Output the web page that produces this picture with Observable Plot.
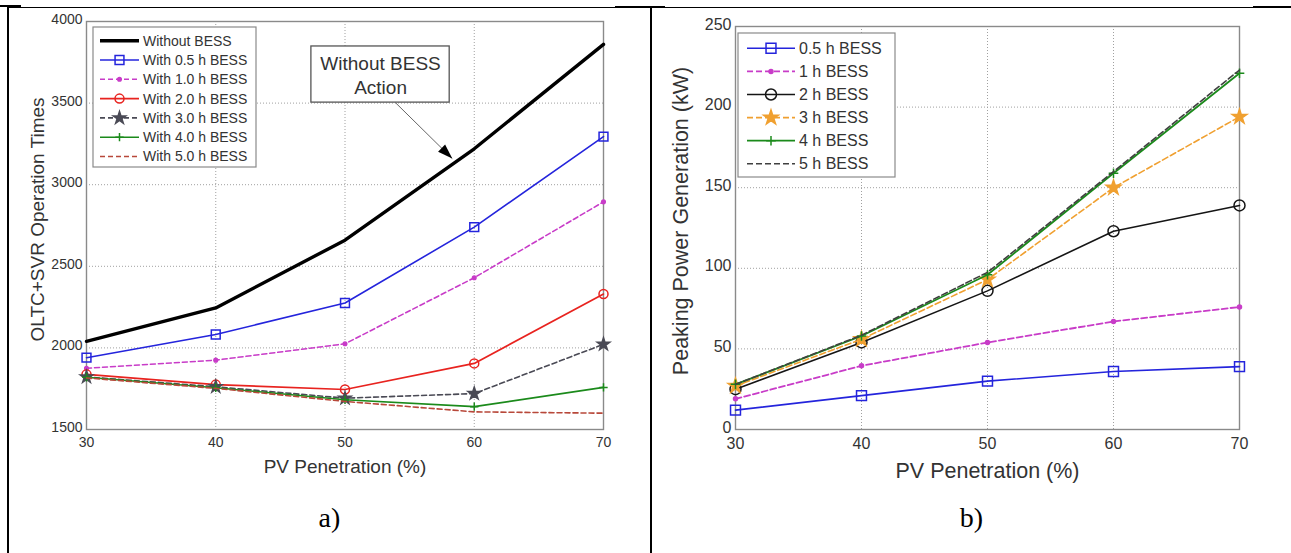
<!DOCTYPE html>
<html><head><meta charset="utf-8">
<script src="https://cdn.jsdelivr.net/npm/d3@7"></script>
<script src="https://cdn.jsdelivr.net/npm/@observablehq/plot@0.6"></script>
<style>
html,body{margin:0;padding:0;background:#fff;}
#page{position:relative;width:1291px;height:553px;overflow:hidden;background:#fff;font-family:"Liberation Sans",Arial,sans-serif;}
.ln{position:absolute;background:#000;}
.cap{position:absolute;text-align:center;font-family:"Liberation Serif","Times New Roman",serif;font-size:28px;line-height:30px;color:#000;}
</style></head><body><div id="page"></div>
<script>
// ---------- data ----------
const penetration = [30, 40, 50, 60, 70];
const xTicks = [30, 40, 50, 60, 70];
const yTicksA = [1500, 2000, 2500, 3000, 3500, 4000];
const yTicksB = [0, 50, 100, 150, 200, 250];

const seriesA = ["Without BESS", "With 0.5 h BESS", "With 1.0 h BESS", "With 2.0 h BESS", "With 3.0 h BESS", "With 4.0 h BESS", "With 5.0 h BESS"];
const opsNone = [2040, 2245, 2660, 3220, 3860];
const ops05 = [1940, 2082, 2275, 2740, 3295];
const ops10 = [1875, 1925, 2025, 2430, 2895];
const ops20 = [1838, 1775, 1745, 1905, 2330];
const ops30 = [1822, 1762, 1692, 1720, 2022];
const ops40 = [1820, 1756, 1682, 1640, 1758];
const ops50 = [1816, 1752, 1672, 1608, 1600];

const seriesB = ["0.5 h BESS", "1 h BESS", "2 h BESS", "3 h BESS", "4 h BESS", "5 h BESS"];
const peak05 = [12, 21, 30, 36, 39];
const peak1 = [19, 39.5, 54, 67, 76];
const peak2 = [25, 54, 86, 123, 139];
const peak3 = [27, 56, 93, 150, 194];
const peak4 = [28, 58, 96, 159, 221];
const peak5 = [28, 58.5, 97.5, 160, 223];

const xLabel = "PV Penetration (%)";
const yLabelA = "OLTC+SVR Operation Times";
const yLabelB = "Peaking Power Generation (kW)";
const captions = ["a)", "b)"];
const annotationText = "Without BESS\nAction";
const annotationBox = {x1: 47.4, x2: 58.1, y1: 3503, y2: 3847, tx: 52.75, ty: 3675};
const annotationArrow = {x1: 53.9, y1: 3503, x2: 58.3, y2: 3160};

// ---------- styles ----------
const stylesA = [
  {color: "#000000", width: 3.4},
  {color: "#2424dc", width: 1.6, symbol: "square", r: 5, fill: "none"},
  {color: "#c83cc8", width: 1.6, dash: "5,3", symbol: "circle", r: 1.8, fill: "#c83cc8"},
  {color: "#e8231f", width: 1.7, symbol: "circle", r: 4.5, fill: "none"},
  {color: "#4a4a55", width: 1.6, dash: "5,3", symbol: "star", r: 3.9, fill: "#4a4a55"},
  {color: "#1b8a1b", width: 1.6, symbol: "plus", r: 2.8, fill: "none"},
  {color: "#b8483a", width: 1.6, dash: "5,3"}
];
const stylesB = [
  {color: "#2424dc", width: 1.6, symbol: "square", r: 5.6, fill: "none"},
  {color: "#c83cc8", width: 1.8, dash: "6,3", symbol: "circle", r: 2, fill: "#c83cc8"},
  {color: "#151515", width: 1.6, symbol: "circle", r: 5.5, fill: "none"},
  {color: "#f0a030", width: 1.6, dash: "6,3", symbol: "star", r: 4.6, fill: "#f0a030"},
  {color: "#1b8a1b", width: 1.8, symbol: "plus", r: 3.2, fill: "none"},
  {color: "#404040", width: 1.6, dash: "6,3"}
];

const symbolTypes = {square: d3.symbolSquare, circle: d3.symbolCircle, star: d3.symbolStar, plus: d3.symbolPlus};
const FONT = "Liberation Sans, Arial, Helvetica, sans-serif";

function rowsOf(values) { return penetration.map((x, i) => ({x, y: values[i]})); }

function seriesMarks(valuesList, styles) {
  const marks = [];
  valuesList.forEach((vals, i) => {
    const s = styles[i], rows = rowsOf(vals);
    marks.push(Plot.line(rows, {x: "x", y: "y", stroke: s.color, strokeWidth: s.width, strokeDasharray: s.dash || null}));
    if (s.symbol) marks.push(Plot.dot(rows, {x: "x", y: "y", symbol: s.symbol, r: s.r, stroke: s.color, fill: s.fill, strokeWidth: 1.5}));
  });
  return marks;
}

function drawLegend(svg, names, styles, L) {
  const g = d3.select(svg).append("g").attr("text-anchor", "start");
  g.append("rect").attr("x", L.x).attr("y", L.y).attr("width", L.w).attr("height", L.h)
    .attr("fill", "white").attr("stroke", "#8a8a8a").attr("stroke-width", 1.2);
  names.forEach((name, i) => {
    const s = styles[i], cy = L.row0 + i * L.step, cx = (L.sx1 + L.sx2) / 2;
    g.append("line").attr("x1", L.sx1).attr("x2", L.sx2).attr("y1", cy).attr("y2", cy)
      .attr("stroke", s.color).attr("stroke-width", s.width).attr("stroke-dasharray", s.dash || null);
    if (s.symbol) {
      g.append("path").attr("d", d3.symbol(symbolTypes[s.symbol], s.r * s.r * Math.PI)())
        .attr("transform", `translate(${cx},${cy})`).attr("fill", s.fill).attr("stroke", s.color).attr("stroke-width", 1.5);
    }
    g.append("text").attr("x", L.tx).attr("y", cy).attr("dy", "0.35em").attr("font-size", L.fs)
      .attr("text-anchor", "start").attr("font-family", FONT).attr("fill", "#333").text(name);
  });
}

// custom arrowhead symbol: tip at origin, pointing up
const arrowHead = {draw(ctx) { ctx.moveTo(0, 0); ctx.lineTo(-5, 15); ctx.lineTo(5, 15); ctx.closePath(); }};

function makeChart(c) {
  const marks = [
    Plot.gridX(xTicks, {stroke: "#a0a0a0", strokeOpacity: 1, strokeDasharray: "1,2", strokeWidth: 1}),
    Plot.gridY(c.yTicks, {stroke: "#a0a0a0", strokeOpacity: 1, strokeDasharray: "1,2", strokeWidth: 1}),
    Plot.frame({stroke: "#8a8a8a", strokeWidth: 1.4}),
    Plot.axisX(xTicks, {tickSize: 0, tickPadding: c.padX, fontSize: c.tick, tickFormat: d => String(d), label: null, fill: "#333"}),
    Plot.axisY(c.yTicks, {tickSize: 0, tickPadding: 4, dy: -2, fontSize: c.tick, tickFormat: d => String(d), label: null, fill: "#333"}),
    Plot.text([xLabel], {text: d => d, frameAnchor: "bottom", lineAnchor: "middle", dy: c.xLabDy, fontSize: c.lab, fill: "#333"}),
    Plot.text([c.yLabel], {text: d => d, frameAnchor: "left", rotate: -90, textAnchor: "middle", lineAnchor: "middle", dx: c.yLabDx, dy: c.yLabDy, fontSize: c.labY, fill: "#333"}),
    ...(c.extra || []),
    ...seriesMarks(c.values, c.styles)
  ];
  return Plot.plot({
    width: c.width, height: 553,
    marginLeft: c.mL, marginRight: c.mR, marginTop: c.mT, marginBottom: 124,
    x: {domain: [30, 70]},
    y: {domain: c.yDomain},
    style: {fontFamily: FONT, background: "white", color: "#333", overflow: "visible"},
    marks
  });
}

const page = document.getElementById("page");

// left chart geometry
const WA = 651, mLA = 86, mRA = 48, mTA = 21;
const pxX = (WA - mLA - mRA) / 40, pxY = (553 - mTA - 124) / 2500;
const arrowAngle = Math.atan2((annotationArrow.y1 - annotationArrow.y2) * pxY, (annotationArrow.x2 - annotationArrow.x1) * pxX) * 180 / Math.PI + 90;

const chartA = makeChart({
  width: WA, mL: mLA, mR: mRA, mT: mTA, yDomain: [1500, 4000], yTicks: yTicksA,
  tick: 14, padX: 8, lab: 19, labY: 19, xLabDy: 37, yLabDx: -49, yLabDy: -6, yLabel: yLabelA,
  values: [opsNone, ops05, ops10, ops20, ops30, ops40, ops50], styles: stylesA,
  extra: [
    Plot.link([annotationArrow], {x1: "x1", y1: "y1", x2: "x2", y2: "y2", stroke: "#666", strokeWidth: 1})
  ]
});
page.appendChild(chartA);
chartA.style.position = "absolute"; chartA.style.left = "0px"; chartA.style.top = "0px";

const chartB = makeChart({
  width: 639, mL: 83, mR: 52, mT: 26, yDomain: [0, 250], yTicks: yTicksB,
  tick: 16, padX: 8, lab: 21.5, labY: 21.5, xLabDy: 42, yLabDx: -54, yLabDy: -7, yLabel: yLabelB,
  values: [peak05, peak1, peak2, peak3, peak4, peak5], styles: stylesB
});
page.appendChild(chartB);
chartB.style.position = "absolute"; chartB.style.left = "652px"; chartB.style.top = "0px";

// annotation box + arrowhead on left chart (drawn via Plot scales)
{
  const ann = Plot.plot({
    width: WA, height: 553, marginLeft: mLA, marginRight: mRA, marginTop: mTA, marginBottom: 124,
    x: {domain: [30, 70], axis: null}, y: {domain: [1500, 4000], axis: null},
    style: {fontFamily: FONT, background: "transparent", color: "#333", overflow: "visible"},
    marks: [
      Plot.rect([annotationBox], {x1: "x1", x2: "x2", y1: "y1", y2: "y2", fill: "white", stroke: "#555", strokeWidth: 1.3}),
      Plot.text([annotationBox], {x: "tx", y: "ty", text: () => annotationText, fontSize: 19, lineHeight: 1.25, fill: "#333"}),
      Plot.dot([annotationArrow], {x: "x2", y: "y2", symbol: arrowHead, r: 5, fill: "#000", stroke: "none", rotate: arrowAngle})
    ]
  });
  ann.style.position = "absolute"; ann.style.left = "0px"; ann.style.top = "0px";
  page.appendChild(ann);
}

drawLegend(chartA, seriesA, stylesA, {x: 93, y: 27, w: 163, h: 140, row0: 40.7, step: 19.3, sx1: 100, sx2: 139, tx: 143, fs: 14});
drawLegend(chartB, seriesB, stylesB, {x: 86, y: 33, w: 157, h: 144, row0: 48.3, step: 23.1, sx1: 95, sx2: 143, tx: 147, fs: 16});

// table borders
function line(l, t, w, h) { const d = document.createElement("div"); d.className = "ln"; Object.assign(d.style, {left: l + "px", top: t + "px", width: w + "px", height: h + "px"}); page.appendChild(d); }
line(7, 7, 1284, 1.3);
line(0, 5, 21, 2.3);
line(615, 5.5, 50, 2.3);
line(1253, 5.5, 38, 2.3);
line(7, 7, 1.5, 546);
line(649.5, 7, 2.5, 546);

// captions
[[8, 643], [652, 639]].forEach(([l, w], i) => {
  const d = document.createElement("div"); d.className = "cap";
  Object.assign(d.style, {left: l + "px", top: "503px", width: w + "px"});
  d.textContent = captions[i]; page.appendChild(d);
});
</script></body></html>
